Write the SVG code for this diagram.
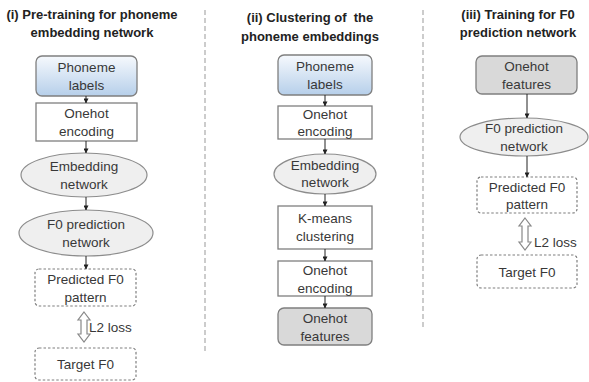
<svg xmlns="http://www.w3.org/2000/svg" width="589" height="382" viewBox="0 0 589 382">
<defs>
<linearGradient id="blue" x1="0" y1="0" x2="0" y2="1">
<stop offset="0" stop-color="#f6f9fd"/>
<stop offset="1" stop-color="#b6cfea"/>
</linearGradient>
<marker id="ah" viewBox="0 0 6 6" refX="5.5" refY="3" markerWidth="5" markerHeight="5" orient="auto" markerUnits="userSpaceOnUse">
<path d="M0,0 L6,3 L0,6 z" fill="#222"/>
</marker>
<style>
text{font-family:"Liberation Sans",Arial,sans-serif;fill:#383838;text-anchor:middle}
.t{font-size:13px;font-weight:bold;fill:#222}
.n{font-size:13.5px}
.box{fill:#fff;stroke:#7f7f7f;stroke-width:1.3}
.blue{fill:url(#blue);stroke:#7f7f7f;stroke-width:1.3}
.gray{fill:#d9d9d9;stroke:#7f7f7f;stroke-width:1.3}
.ell{fill:#efefef;stroke:#8c8c8c;stroke-width:1.2}
.dash{fill:#fff;stroke:#7f7f7f;stroke-width:1.2;stroke-dasharray:2.5 2}
.sep{stroke:#999;stroke-width:1;stroke-dasharray:5 3;fill:none}
.conn line{stroke:#222;stroke-width:1;marker-end:url(#ah)}
.dbl{fill:#fff;stroke:#888;stroke-width:1.2}
</style>
</defs>
<rect width="589" height="382" fill="#fff"/>
<g id="separators">
<line class="sep" x1="205" y1="10" x2="205" y2="352"/>
<line class="sep" x1="423" y1="10" x2="423" y2="327"/>
</g>
<g id="titles">
<text class="t" x="92" y="19">(i) Pre-training for phoneme</text>
<text class="t" x="92" y="37">embedding network</text>
<text class="t" x="310" y="22" xml:space="preserve">(ii) Clustering of  the</text>
<text class="t" x="310" y="41">phoneme embeddings</text>
<text class="t" x="518" y="19">(iii) Training for F0</text>
<text class="t" x="518" y="37">prediction network</text>
</g>
<g id="c1_phoneme"><rect class="blue" x="36" y="56" width="101" height="40" rx="6"/><text class="n" x="86.5" y="72">Phoneme</text><text class="n" x="86.5" y="90">labels</text></g>
<g id="c1_onehot"><rect class="box" x="36" y="103" width="101" height="38"/><text class="n" x="86.5" y="118">Onehot</text><text class="n" x="86.5" y="136">encoding</text></g>
<g id="c1_embed"><ellipse class="ell" cx="84" cy="175" rx="63" ry="22"/><text class="n" x="84" y="171">Embedding</text><text class="n" x="84" y="189">network</text></g>
<g id="c1_f0net"><ellipse class="ell" cx="86" cy="233" rx="67" ry="23"/><text class="n" x="86" y="229">F0 prediction</text><text class="n" x="86" y="247">network</text></g>
<g id="c1_pred"><rect class="dash" x="35" y="269" width="101" height="37" rx="4"/><text class="n" x="85.5" y="284">Predicted F0</text><text class="n" x="85.5" y="302">pattern</text></g>
<g id="c1_loss"><polygon class="dbl" points="84,312 90,320 87,320 87,334 90,334 84,342 78,334 81,334 81,320 78,320"/><text class="n" x="89" y="332" style="text-anchor:start">L2 loss</text></g>
<g id="c1_target"><rect class="dash" x="35" y="348" width="101" height="32" rx="4"/><text class="n" x="85.5" y="369">Target F0</text></g>
<g id="c2_phoneme"><rect class="blue" x="278" y="55" width="94" height="40" rx="6"/><text class="n" x="325" y="71">Phoneme</text><text class="n" x="325" y="89">labels</text></g>
<g id="c2_onehot"><rect class="box" x="278" y="106" width="94" height="33"/><text class="n" x="325" y="119">Onehot</text><text class="n" x="325" y="136">encoding</text></g>
<g id="c2_embed"><ellipse class="ell" cx="325" cy="174" rx="51" ry="20"/><text class="n" x="325" y="170">Embedding</text><text class="n" x="325" y="187">network</text></g>
<g id="c2_kmeans"><rect class="box" x="278" y="206" width="94" height="43"/><text class="n" x="325" y="223">K-means</text><text class="n" x="325" y="241">clustering</text></g>
<g id="c2_onehot2"><rect class="box" x="278" y="261" width="94" height="35"/><text class="n" x="325" y="275">Onehot</text><text class="n" x="325" y="293">encoding</text></g>
<g id="c2_features"><rect class="gray" x="278" y="308" width="94" height="37" rx="6"/><text class="n" x="325" y="323">Onehot</text><text class="n" x="325" y="341">features</text></g>
<g id="c3_features"><rect class="gray" x="476" y="56" width="101" height="38" rx="6"/><text class="n" x="526.5" y="71">Onehot</text><text class="n" x="526.5" y="89">features</text></g>
<g id="c3_f0net"><ellipse class="ell" cx="524" cy="137" rx="64" ry="19"/><text class="n" x="524" y="133">F0 prediction</text><text class="n" x="524" y="151">network</text></g>
<g id="c3_pred"><rect class="dash" x="477" y="177" width="100" height="36" rx="4"/><text class="n" x="527" y="192">Predicted F0</text><text class="n" x="527" y="209">pattern</text></g>
<g id="c3_loss"><polygon class="dbl" points="525,218 531,226 528,226 528,242 531,242 525,250 519,242 522,242 522,226 519,226"/><text class="n" x="534" y="247" style="text-anchor:start">L2 loss</text></g>
<g id="c3_target"><rect class="dash" x="477" y="255" width="100" height="33" rx="4"/><text class="n" x="527" y="277">Target F0</text></g>
<g id="connectors" class="conn">
<line x1="86" y1="96" x2="86" y2="103"/>
<line x1="86" y1="141" x2="86" y2="153"/>
<line x1="86" y1="197" x2="86" y2="210"/>
<line x1="86" y1="256" x2="86" y2="269"/>
<line x1="325" y1="95" x2="325" y2="106"/>
<line x1="325" y1="139" x2="325" y2="154"/>
<line x1="325" y1="194" x2="325" y2="206"/>
<line x1="325" y1="249" x2="325" y2="261"/>
<line x1="325" y1="296" x2="325" y2="308"/>
<line x1="527" y1="94" x2="527" y2="118"/>
<line x1="527" y1="156" x2="527" y2="177"/>
</g>
</svg>
